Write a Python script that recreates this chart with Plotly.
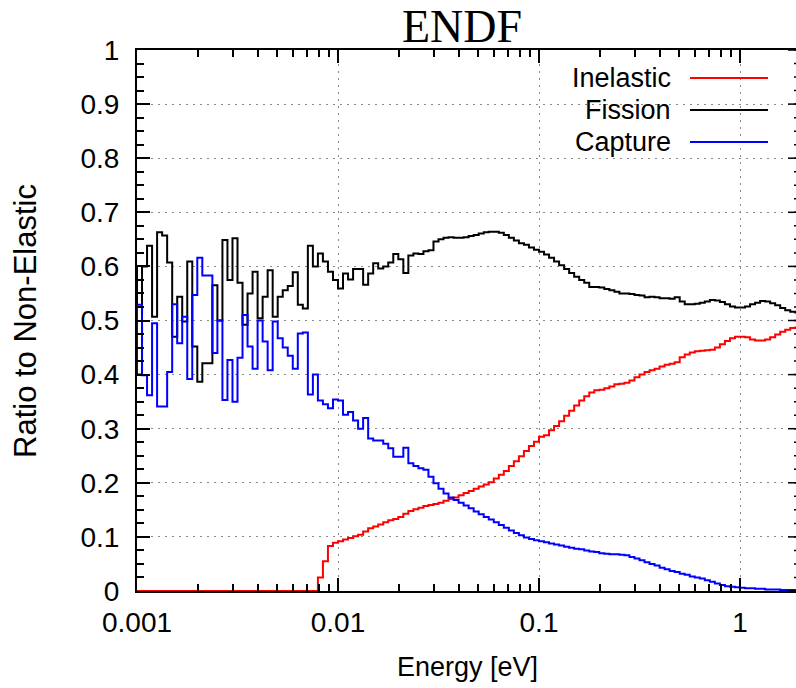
import numpy as np
import plotly.graph_objects as go

# Group boundaries: 40 equal-lethargy bins per decade (eV)
EDGES = np.logspace(-3.025, 0.3, 134)

INELASTIC = [0.0] * 37 + [
    0.025, 0.055, 0.083, 0.089, 0.092, 0.095, 0.098, 0.101, 0.104, 0.110,
    0.116, 0.119, 0.123, 0.127, 0.131, 0.133, 0.137, 0.143, 0.148, 0.151,
    0.154, 0.157, 0.159, 0.161, 0.163, 0.167, 0.170, 0.173, 0.177, 0.181,
    0.185, 0.189, 0.193, 0.197, 0.201, 0.208, 0.215, 0.222, 0.231, 0.240,
    0.249, 0.259, 0.268, 0.276, 0.285,
    0.288, 0.297, 0.305, 0.314, 0.324, 0.333, 0.343, 0.352, 0.360, 0.367,
    0.371, 0.372, 0.375, 0.378, 0.382, 0.383, 0.385, 0.389, 0.395, 0.400,
    0.405, 0.408, 0.411, 0.415, 0.418, 0.420, 0.423, 0.432, 0.437, 0.441,
    0.443, 0.444, 0.445, 0.446, 0.450, 0.456, 0.462, 0.467, 0.470, 0.470,
    0.469, 0.465, 0.463, 0.463, 0.465, 0.469, 0.474, 0.479, 0.483, 0.486,
    0.487]

FISSION = [
    0.600, 0.400, 0.600, 0.638, 0.507, 0.663, 0.657, 0.607, 0.470, 0.544,
    0.498, 0.609, 0.452, 0.387, 0.421, 0.421, 0.565, 0.500, 0.649, 0.575,
    0.652, 0.570, 0.492, 0.550, 0.590, 0.504, 0.544, 0.593, 0.507, 0.544,
    0.556, 0.564, 0.589, 0.529, 0.522, 0.638, 0.600, 0.624, 0.609, 0.590,
    0.575, 0.559, 0.587, 0.576, 0.595, 0.595, 0.566, 0.587, 0.606, 0.596,
    0.600, 0.607, 0.623, 0.613, 0.588, 0.620, 0.624, 0.623, 0.628, 0.630,
    0.646, 0.650, 0.653, 0.654, 0.653, 0.653, 0.654, 0.656, 0.658, 0.661,
    0.663, 0.664, 0.664, 0.662, 0.658, 0.653, 0.648, 0.643, 0.640, 0.635,
    0.631, 0.627,
    0.622, 0.616, 0.609, 0.602, 0.595, 0.588, 0.581, 0.575, 0.570, 0.562,
    0.562, 0.561, 0.558, 0.556, 0.553, 0.550, 0.550, 0.549, 0.547, 0.546,
    0.543, 0.544, 0.543, 0.541, 0.541, 0.540, 0.543, 0.535, 0.530, 0.530,
    0.531, 0.533, 0.535, 0.538, 0.537, 0.534, 0.530, 0.526, 0.524, 0.524,
    0.526, 0.530, 0.533, 0.536, 0.535, 0.532, 0.528, 0.523, 0.519, 0.516,
    0.515]

CAPTURE = [
    0.400, 0.529, 0.399, 0.362, 0.495, 0.341, 0.341, 0.405, 0.530, 0.458,
    0.507, 0.392, 0.547, 0.616, 0.583, 0.583, 0.440, 0.500, 0.353, 0.427,
    0.350, 0.431, 0.510, 0.452, 0.411, 0.500, 0.461, 0.408, 0.498, 0.467,
    0.450, 0.435, 0.411, 0.476, 0.478, 0.363, 0.400, 0.352, 0.345, 0.338,
    0.354, 0.352, 0.326, 0.331, 0.315, 0.300, 0.320, 0.282, 0.278, 0.278,
    0.272, 0.264, 0.248, 0.248, 0.265, 0.236, 0.231, 0.227, 0.224, 0.211,
    0.199, 0.189, 0.180, 0.173, 0.168, 0.163, 0.158, 0.153, 0.147, 0.142,
    0.137, 0.132, 0.127, 0.122, 0.117, 0.112, 0.107, 0.103, 0.099, 0.096,
    0.094, 0.092,
    0.090, 0.088, 0.086, 0.084, 0.082, 0.080, 0.078, 0.077, 0.075, 0.073,
    0.072, 0.070, 0.069, 0.068, 0.068, 0.067, 0.066, 0.063, 0.060, 0.057,
    0.053, 0.050, 0.047, 0.043, 0.040, 0.037, 0.035, 0.032, 0.030, 0.027,
    0.025, 0.023, 0.020, 0.017, 0.014, 0.011, 0.009, 0.008, 0.007, 0.006,
    0.005, 0.005, 0.004, 0.004, 0.003, 0.003, 0.003, 0.002, 0.002, 0.002,
    0.002]

SERIES = [("Inelastic", INELASTIC, "#ff0000"),
          ("Fission", FISSION, "#000000"),
          ("Capture", CAPTURE, "#0000ff")]

X_TICKS = [0.001, 0.01, 0.1, 1]
X_TICKTEXT = ["0.001", "0.01", "0.1", "1"]
X_MINOR = [m * d for d in (0.001, 0.01, 0.1, 1) for m in range(2, 10)]
Y_TICKS = [round(0.1 * i, 1) for i in range(11)]
Y_TICKTEXT = ["0", "0.1", "0.2", "0.3", "0.4", "0.5", "0.6", "0.7", "0.8", "0.9", "1"]
Y_MINOR = [round(0.025 * i, 3) for i in range(41)]

SANS = "Liberation Sans, Arial, Helvetica, sans-serif"

W, H = 796, 688
L, R, T, B = 137, 0, 50, 97
PW, PH = W - L - R, H - T - B


def px(x):
    return (x - L) / PW


def py(y):
    return (H - B - y) / PH


fig = go.Figure()
for name, vals, col in SERIES:
    fig.add_trace(go.Scatter(
        x=list(EDGES), y=list(vals) + [vals[-1]], mode="lines",
        line=dict(color=col, width=2, shape="hv"), name=name,
        showlegend=False, hoverinfo="skip"))

grid_dash = "2px,5px"
fig.update_xaxes(
    type="log", range=[-3, -3 + PW / 201.0],
    tickmode="array", tickvals=X_TICKS, ticktext=X_TICKTEXT,
    ticks="inside", ticklen=13, tickwidth=1.5, tickcolor="black",
    showline=True, linecolor="black", linewidth=2, mirror="ticks",
    showgrid=True, gridcolor="#8a8a8a", gridwidth=1, griddash=grid_dash,
    zeroline=False, ticklabelstandoff=5,
    tickfont=dict(family=SANS, size=28, color="black"),
    minor=dict(tickmode="array", tickvals=X_MINOR, ticks="inside", ticklen=7,
               tickwidth=1.5, tickcolor="black", showgrid=False),
)
fig.update_yaxes(
    range=[0, 1], tickmode="array", tickvals=Y_TICKS, ticktext=Y_TICKTEXT,
    ticks="inside", ticklen=13, tickwidth=1.5, tickcolor="black",
    showline=True, linecolor="black", linewidth=2, mirror=False,
    showgrid=True, gridcolor="#8a8a8a", gridwidth=1, griddash=grid_dash,
    zeroline=False, ticklabelstandoff=10,
    tickfont=dict(family=SANS, size=28, color="black"),
    minor=dict(tickmode="array", tickvals=Y_MINOR, ticks="inside", ticklen=7,
               tickwidth=1.5, tickcolor="black", showgrid=False),
)

shapes = []
# mirrored right-axis ticks (border sits just outside the picture)
for v in Y_TICKS:
    shapes.append(dict(type="line", xref="paper", yref="y",
                       x0=px(788), x1=1, y0=v, y1=v,
                       line=dict(color="black", width=1.5)))
for v in Y_MINOR:
    shapes.append(dict(type="line", xref="paper", yref="y",
                       x0=px(794), x1=1, y0=v, y1=v,
                       line=dict(color="black", width=1.5)))

annotations = []
legend_y = [78, 110, 142]
for (name, _, col), ly in zip(SERIES, legend_y):
    annotations.append(dict(text=name, xref="paper", yref="paper",
                            x=px(673), y=py(ly), xanchor="right", yanchor="middle",
                            showarrow=False,
                            font=dict(family=SANS, size=27, color="black")))
    shapes.append(dict(type="line", xref="paper", yref="paper",
                       x0=px(690), x1=px(768), y0=py(ly), y1=py(ly),
                       line=dict(color=col, width=2)))

annotations.append(dict(text="Energy [eV]", xref="paper", yref="paper",
                        x=px(467), y=py(667), xanchor="center", yanchor="middle",
                        showarrow=False,
                        font=dict(family=SANS, size=27, color="black")))
annotations.append(dict(text="Ratio to Non-Elastic", xref="paper", yref="paper",
                        x=px(25), y=py(321), xanchor="center", yanchor="middle",
                        textangle=-90, showarrow=False,
                        font=dict(family=SANS, size=31, color="black")))

fig.update_layout(
    width=W, height=H,
    margin=dict(l=L, r=R, t=T, b=B, pad=0),
    paper_bgcolor="white", plot_bgcolor="white",
    title=dict(text="ENDF", x=462 / W, xanchor="center",
               y=1 - 26 / H, yanchor="middle",
               font=dict(family="Liberation Serif, Times New Roman, serif",
                         size=46, color="black")),
    shapes=shapes, annotations=annotations, showlegend=False,
)

fig.write_html("out.html")
